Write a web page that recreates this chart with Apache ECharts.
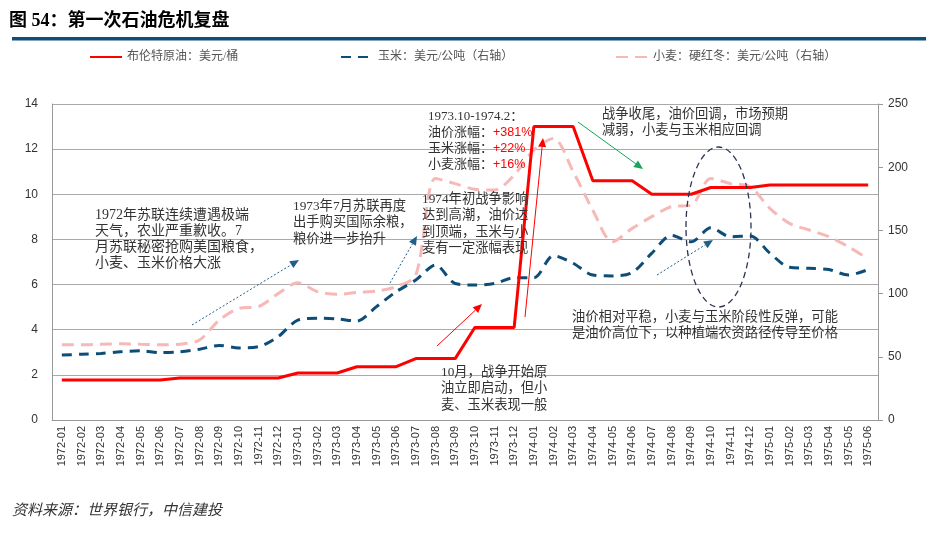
<!DOCTYPE html>
<html>
<head>
<meta charset="utf-8">
<script src="https://cdn.jsdelivr.net/npm/echarts@6/dist/echarts.min.js"></script>
<style>
  html, body { margin: 0; padding: 0; background: #fff; }
  #chart { width: 936px; height: 540px; }
</style>
</head>
<body>
<div id="chart"></div>
<script>
// 月份
var months = [
  '1972-01', '1972-02', '1972-03', '1972-04', '1972-05', '1972-06',
  '1972-07', '1972-08', '1972-09', '1972-10', '1972-11', '1972-12',
  '1973-01', '1973-02', '1973-03', '1973-04', '1973-05', '1973-06',
  '1973-07', '1973-08', '1973-09', '1973-10', '1973-11', '1973-12',
  '1974-01', '1974-02', '1974-03', '1974-04', '1974-05', '1974-06',
  '1974-07', '1974-08', '1974-09', '1974-10', '1974-11', '1974-12',
  '1975-01', '1975-02', '1975-03', '1975-04', '1975-05', '1975-06'
];
// 布伦特原油：美元/桶（左轴）
var brent = [
  1.77, 1.77, 1.77, 1.77, 1.77, 1.77,
  1.86, 1.86, 1.86, 1.86, 1.86, 1.86,
  2.08, 2.08, 2.08, 2.36, 2.36, 2.36,
  2.72, 2.72, 2.72, 4.1, 4.1, 4.1,
  13.0, 13.0, 13.0, 10.6, 10.6, 10.6,
  10.0, 10.0, 10.0, 10.3, 10.3, 10.3,
  10.41, 10.41, 10.41, 10.41, 10.41, 10.41
];
// 玉米：美元/公吨（右轴）
var corn = [
  51.4, 52, 52.7, 54, 54.8, 53.3,
  54, 56, 59, 57, 58, 66,
  79, 80.5, 80, 78.3, 89.7, 101.5,
  110.8, 122.6, 108, 106.8, 108, 112.6,
  112.6, 130, 124, 114.7, 114, 116.6,
  132, 146, 141, 152, 145, 145.6,
  132, 120.8, 120, 119, 114.7, 119
];
// 小麦：硬红冬：美元/公吨（右轴）
var wheat = [
  59.5, 59.5, 60, 60.3, 60, 59.5,
  60, 63.3, 79, 88.3, 89.7, 100,
  108.6, 101.5, 99.4, 101, 102, 105.5,
  114.7, 191, 187, 182.5, 182, 193.8,
  213.6, 222.8, 196.5, 166, 141, 151.6,
  160.9, 168.8, 170, 191, 187, 184.6,
  167.5, 155.6, 150.3, 145, 137, 127.4
];
var seriesNames = ['布伦特原油：美元/桶', '玉米：美元/公吨（右轴）', '小麦：硬红冬：美元/公吨（右轴）'];

var serifFont = '"Liberation Serif", "Noto Sans CJK SC", serif';
var sansFont = '"Liberation Sans", Arial, sans-serif';

// 注释文字
function note(x, y, text, size, lh) {
  return {
    type: 'text', left: x, top: y, z: 50,
    style: {
      text: text, fill: '#333', font: size + 'px ' + serifFont,
      lineHeight: lh
    }
  };
}

// 带箭头的线
function arrow(x1, y1, x2, y2, color, dash) {
  var ang = Math.atan2(y2 - y1, x2 - x1);
  var len = 9, wid = 4;
  var bx = x2 - len * Math.cos(ang), by = y2 - len * Math.sin(ang);
  var px = -Math.sin(ang) * wid, py = Math.cos(ang) * wid;
  return [{
    type: 'line', z: 50,
    shape: { x1: x1, y1: y1, x2: bx, y2: by },
    style: { stroke: color, lineWidth: 1, lineDash: dash ? [2, 2] : null }
  }, {
    type: 'polygon', z: 50,
    shape: { points: [[x2, y2], [bx + px, by + py], [bx - px, by - py]] },
    style: { fill: color }
  }];
}

var graphics = [
  { type: 'rect', shape: { x: 12, y: 37, width: 914, height: 3.5 }, style: { fill: '#0f4e78' } },
  {
    type: 'text', left: 12, top: 504,
    style: { text: '资料来源：世界银行，中信建投', fill: '#333', font: 'italic 15px ' + serifFont }
  },
  note(95, 207, '1972年苏联连续遭遇极端\n天气，农业严重歉收。7\n月苏联秘密抢购美国粮食，\n小麦、玉米价格大涨', 14, 16),
  note(293, 198, '1973年7月苏联再度\n出手购买国际余粮，\n粮价进一步抬升', 13.3, 16.5),
  note(422, 191, '1974年初战争影响\n达到高潮，油价达\n到顶端，玉米与小\n麦有一定涨幅表现', 13.3, 16.5),
  note(441, 364, '10月，战争开始原\n油立即启动，但小\n麦、玉米表现一般', 13.3, 16.5),
  note(602, 107, '战争收尾，油价回调，市场预期\n减弱，小麦与玉米相应回调', 13.3, 16),
  note(572, 309, '油价相对平稳，小麦与玉米阶段性反弹，可能\n是油价高位下，以种植端农资路径传导至价格', 13.3, 16.5),
  {
    type: 'text', left: 428, top: 109, z: 50,
    style: {
      text: '1973.10-1974.2：\n油价涨幅：{r|+381%}\n玉米涨幅：{r|+22%}\n小麦涨幅：{r|+16%}',
      fill: '#333', font: '13px ' + serifFont, lineHeight: 16,
      rich: { r: { fill: '#ff0000', font: '12.5px ' + sansFont, lineHeight: 16 } }
    }
  },
  {
    type: 'ellipse', z: 50,
    shape: { cx: 718.5, cy: 227, rx: 32.5, ry: 80 },
    style: { fill: 'none', stroke: '#2b3553', lineWidth: 1.3, lineDash: [6, 4] }
  }
];
graphics = graphics
  .concat(arrow(192, 325, 299, 260, '#1f5f8b', true))
  .concat(arrow(390, 283, 417, 236, '#1f5f8b', true))
  .concat(arrow(437, 346, 482, 304, '#ff0000', false))
  .concat(arrow(525, 317, 543, 138, '#ff0000', false))
  .concat(arrow(578, 122, 643, 169, '#19a55a', false))
  .concat(arrow(657, 275, 713, 240, '#1f5f8b', true));

function legendAt(left, name) {
  return {
    left: left, top: 46, data: [name],
    itemWidth: 32, itemHeight: 10, itemGap: 0,
    itemStyle: { opacity: 0, borderWidth: 0 },
    textStyle: { fontFamily: serifFont, fontSize: 12, color: '#555', padding: [0, 0, 0, 0] }
  };
}

var chart = echarts.init(document.getElementById('chart'));
chart.setOption({
  animation: false,
  backgroundColor: '#fff',
  title: {
    text: '图 54：第一次石油危机复盘',
    left: 4, top: 7,
    textStyle: { fontFamily: serifFont, fontSize: 18, fontWeight: 'bold', color: '#000' }
  },
  legend: [
    legendAt(84, seriesNames[0]),
    legendAt(335, seriesNames[1]),
    legendAt(610, seriesNames[2])
  ],
  grid: { left: 52, right: 58, top: 104, bottom: 120 },
  xAxis: {
    type: 'category',
    data: months,
    boundaryGap: true,
    axisLine: { lineStyle: { color: '#999' } },
    axisTick: { inside: true, length: 4, lineStyle: { color: '#999' } },
    axisLabel: { rotate: 90, interval: 0, fontFamily: sansFont, fontSize: 11, color: '#333', margin: 6 }
  },
  yAxis: [{
    type: 'value', min: 0, max: 14, interval: 2,
    axisLine: { show: true, lineStyle: { color: '#999' } },
    axisTick: { show: false },
    axisLabel: { fontFamily: sansFont, fontSize: 12, color: '#333', margin: 14 },
    splitLine: { lineStyle: { color: '#aaa' } }
  }, {
    type: 'value', min: 0, max: 250, interval: 50,
    axisLine: { show: true, lineStyle: { color: '#999' } },
    axisTick: { show: true, length: 5, lineStyle: { color: '#999' } },
    axisLabel: { fontFamily: sansFont, fontSize: 12, color: '#333', margin: 10 },
    splitLine: { show: false }
  }],
  series: [{
    name: seriesNames[0], type: 'line', yAxisIndex: 0, data: brent,
    symbol: 'none', z: 5,
    itemStyle: { color: '#ff0000' },
    lineStyle: { color: '#ff0000', width: 3 }
  }, {
    name: seriesNames[1], type: 'line', yAxisIndex: 1, data: corn,
    symbol: 'none', smooth: 0.3, z: 4,
    itemStyle: { color: '#0d4d78' },
    lineStyle: { color: '#0d4d78', width: 3, type: [10, 7] }
  }, {
    name: seriesNames[2], type: 'line', yAxisIndex: 1, data: wheat,
    symbol: 'none', smooth: 0.3, z: 3,
    itemStyle: { color: '#f7b8b8' },
    lineStyle: { color: '#f7b8b8', width: 3, type: [12, 7] }
  }],
  graphic: graphics
});
</script>
</body>
</html>
